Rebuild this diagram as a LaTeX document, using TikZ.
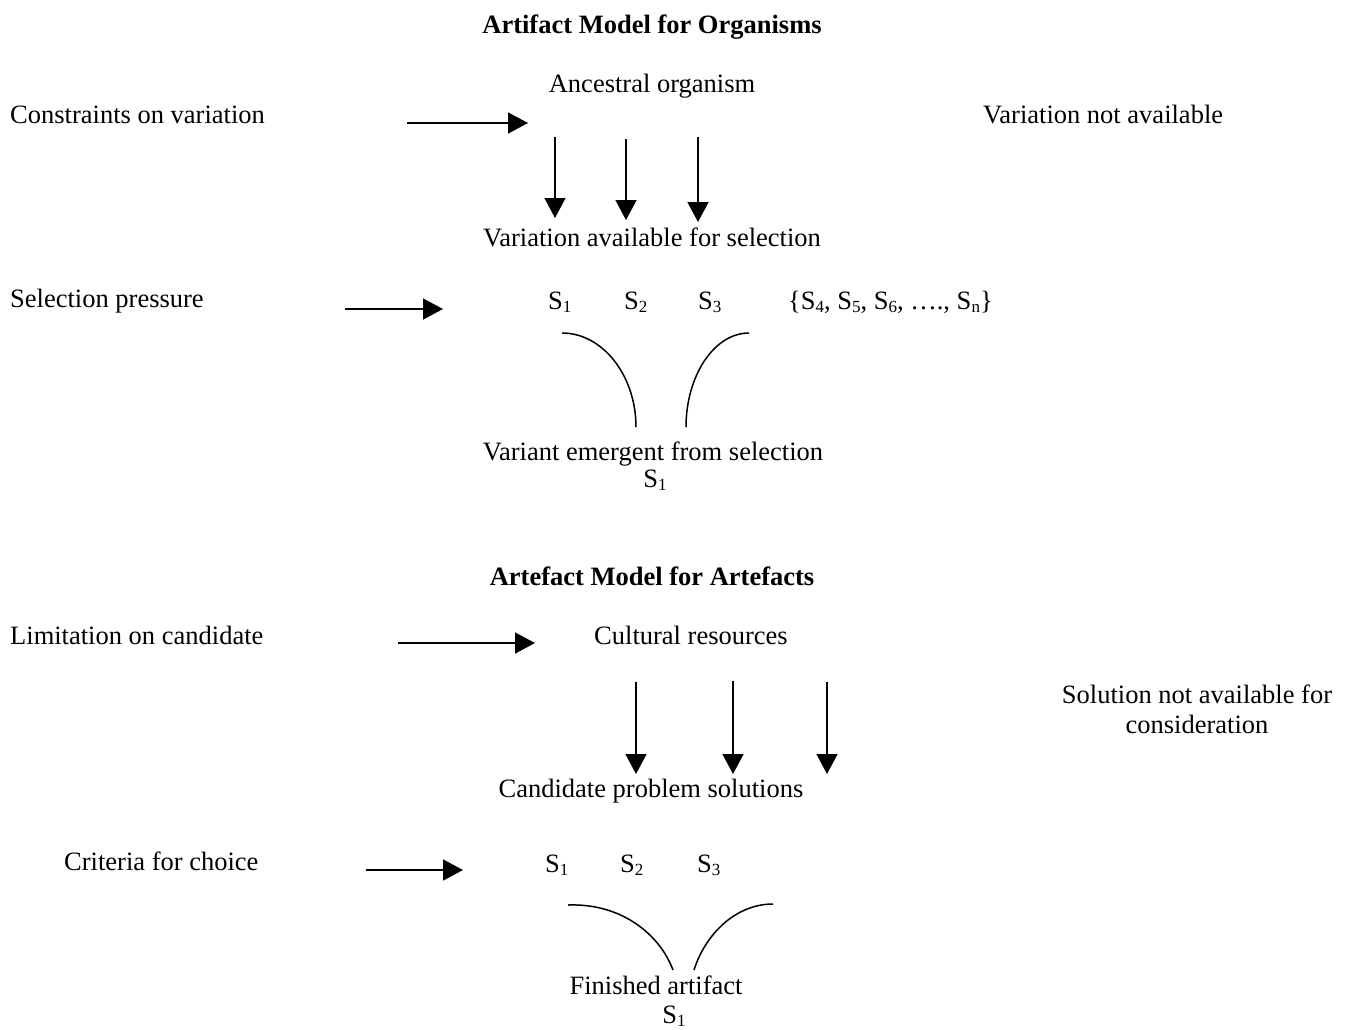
\documentclass[tikz,border=0pt]{standalone}
\usepackage{fontspec}
\setmainfont{Liberation Serif}
\usetikzlibrary{arrows.meta}

% lowered small index for S_1, S_2, ...
\newcommand{\subidx}[1]{\raisebox{-0.28ex}{\fontsize{17}{17}\selectfont #1}}

\tikzset{
  txt/.style={inner sep=0pt, font=\fontsize{26.5}{30}\selectfont},
  ttl/.style={txt, font=\fontsize{26.5}{30}\selectfont\bfseries},
  flow/.style={line width=1.5pt, -{Triangle[length=20pt,width=21pt]}},
  merge/.style={line width=1.5pt},
}

\begin{document}
\begin{tikzpicture}[x=1pt,y=-1pt]
\useasboundingbox (0,0) rectangle (1351,1029);

% ---------- organisms ----------
\node[ttl, anchor=base] (t1) at (652,33) {Artifact Model for Organisms};
\node[txt, anchor=base] (anc) at (652,92) {Ancestral organism};
\node[txt, anchor=base west] (cons) at (10,123) {Constraints on variation};
\node[txt, anchor=base west] (vna) at (983,123) {Variation not available};
\node[txt, anchor=base] (vas) at (652,246) {Variation available for selection};
\node[txt, anchor=base west] (sp) at (10,307) {Selection pressure};
\node[txt, anchor=base west] (a1) at (548,309) {S\subidx{1}};
\node[txt, anchor=base west] (a2) at (624,309) {S\subidx{2}};
\node[txt, anchor=base west] (a3) at (698,309) {S\subidx{3}};
\node[txt, anchor=base west] (arest) at (788,309) {\{S\subidx{4}, S\subidx{5}, S\subidx{6}, …., S\subidx{n}\}};
\node[txt, anchor=base] (vem) at (653,460) {Variant emergent from selection};
\node[txt, anchor=base] (vs1) at (655,487) {S\subidx{1}};

\coordinate (c1a) at (407,123); \coordinate (c1b) at (528,123);
\draw[flow] (c1a) -- (c1b);
\coordinate (d1a) at (555,137); \coordinate (d1b) at (555,218);
\coordinate (d2a) at (626,139); \coordinate (d2b) at (626,220);
\coordinate (d3a) at (698,137); \coordinate (d3b) at (698,222);
\draw[flow] (d1a) -- (d1b);
\draw[flow] (d2a) -- (d2b);
\draw[flow] (d3a) -- (d3b);
\coordinate (s1a) at (345,309); \coordinate (s1b) at (443,309);
\draw[flow] (s1a) -- (s1b);

\coordinate (l1a) at (562,333); \coordinate (l1b) at (636,427);
\coordinate (r1a) at (749,333); \coordinate (r1b) at (686,427);
\draw[merge] (l1a) .. controls (603,333) and (636,376) .. (l1b);
\draw[merge] (r1a) .. controls (714,333) and (686,376) .. (r1b);

% ---------- artefacts ----------
\node[ttl, anchor=base] (t2) at (652,585) {Artefact Model for Artefacts};
\node[txt, anchor=base west] (lim) at (10,644) {Limitation on candidate};
\node[txt, anchor=base] (cul) at (691,644) {Cultural resources};
\node[txt, anchor=base] (sna) at (1197,703) {Solution not available for};
\node[txt, anchor=base] (scon) at (1197,733) {consideration};
\node[txt, anchor=base] (cps) at (651,797) {Candidate problem solutions};
\node[txt, anchor=base west] (crit) at (64,870) {Criteria for choice};
\node[txt, anchor=base west] (b1) at (545,872) {S\subidx{1}};
\node[txt, anchor=base west] (b2) at (620,872) {S\subidx{2}};
\node[txt, anchor=base west] (b3) at (697,872) {S\subidx{3}};
\node[txt, anchor=base] (fin) at (656,994) {Finished artifact};
\node[txt, anchor=base] (fs1) at (674,1023) {S\subidx{1}};

\coordinate (c2a) at (398,643); \coordinate (c2b) at (535,643);
\draw[flow] (c2a) -- (c2b);
\coordinate (e1a) at (636,682); \coordinate (e1b) at (636,774);
\coordinate (e2a) at (733,681); \coordinate (e2b) at (733,774);
\coordinate (e3a) at (827,682); \coordinate (e3b) at (827,774);
\draw[flow] (e1a) -- (e1b);
\draw[flow] (e2a) -- (e2b);
\draw[flow] (e3a) -- (e3b);
\coordinate (s2a) at (366,870); \coordinate (s2b) at (463,870);
\draw[flow] (s2a) -- (s2b);

\coordinate (l2a) at (568,905); \coordinate (l2b) at (673,970);
\coordinate (r2a) at (773,904); \coordinate (r2b) at (694,970);
\draw[merge] (l2a) .. controls (622,903) and (660,935) .. (l2b);
\draw[merge] (r2a) .. controls (735,904) and (705,935) .. (r2b);
\end{tikzpicture}
\end{document}
